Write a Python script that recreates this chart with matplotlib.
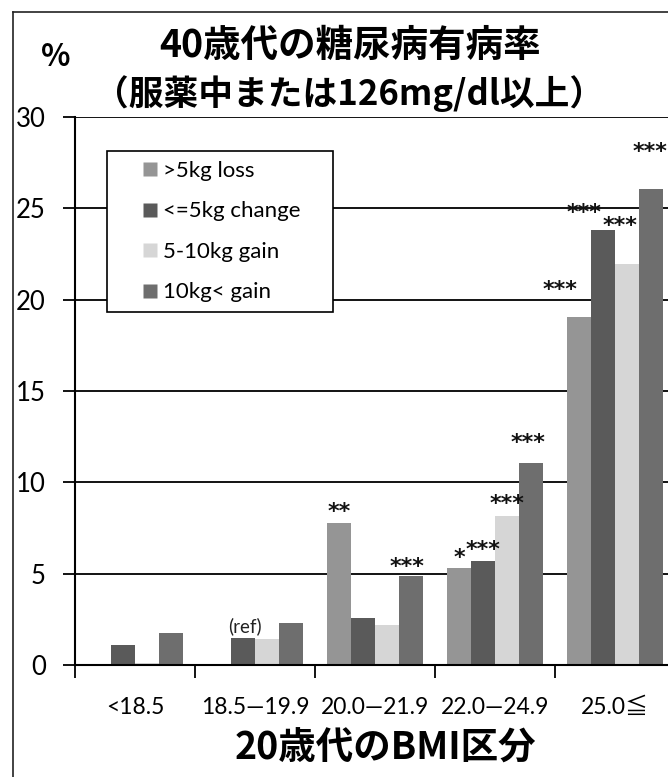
import matplotlib
matplotlib.use('Agg')
import matplotlib.pyplot as plt
import numpy as np
from matplotlib.lines import Line2D

# ---------------- data ----------------
categories = ['<18.5', '18.5—19.9', '20.0—21.9', '22.0—24.9', '25.0≦']
series_names = ['>5kg loss', '<=5kg change', '5-10kg gain', '10kg< gain']
loss5 = [np.nan, np.nan, 7.8, 5.3, 19.05]
change5 = [1.1, 1.5, 2.55, 5.7, 23.8]
gain5_10 = [0.1, 1.4, 2.2, 8.15, 21.95]
gain10 = [1.75, 2.3, 4.85, 11.05, 26.05]
sig_loss5 = ['', '', '**', '*', '***']
sig_change5 = ['', '(ref)', '', '***', '***']
sig_gain5_10 = ['', '', '', '***', '***']
sig_gain10 = ['', '', '***', '***', '***']
yticks = [0, 5, 10, 15, 20, 25, 30]

title1 = '40歳代の糖尿病有病率'
title2 = '（服薬中または126mg/dl以上）'
xlabel = '20歳代のBMI区分'
ylabel = '%'

# ---------------- style ----------------
W, H = 668, 777
LAT = ['Lato', 'Noto Sans CJK JP', 'DejaVu Sans']
JP = ['Noto Sans CJK JP', 'DejaVu Sans']
colors = ['#959595', '#5a5a5a', '#d6d6d6', '#6e6e6e']
series = [loss5, change5, gain5_10, gain10]
sigs = [sig_loss5, sig_change5, sig_gain5_10, sig_gain10]
# label offsets in pixels (dy above bar top to mark centre, dx)
offs = {
    (0, 2): (18, 0), (0, 3): (17, 0), (0, 4): (34, -19),
    (1, 1): (11, 2), (1, 3): (18, 0), (1, 4): (24, -19),
    (2, 3): (19, 0), (2, 4): (45, -7),
    (3, 2): (16, -4), (3, 3): (27, -3), (3, 4): (44, -1),
}

fig = plt.figure(figsize=(W / 100, H / 100), dpi=100)
fig.patch.set_facecolor('white')
ax = fig.add_axes([75 / W, (H - 665) / H, 600 / W, 548 / H])

n = len(series)
bw = 0.2
x = np.arange(len(categories))
for i, (vals, c) in enumerate(zip(series, colors)):
    xs = x + (i - (n - 1) / 2) * bw
    ax.bar(xs, vals, width=bw, color=c, edgecolor='none', zorder=2)
    for j, (v, s) in enumerate(zip(vals, sigs[i])):
        if not s:
            continue
        dy, dx = offs.get((i, j), (16, 0))
        if s == '(ref)':
            ax.annotate(s, xy=(xs[j], v), xytext=(dx * 0.72, dy * 0.72),
                        textcoords='offset points', ha='center', va='center',
                        fontsize=13.5, family=LAT, color='#222222')
        else:
            ax.annotate(s, xy=(xs[j], v), xytext=(dx * 0.72, (dy - 13) * 0.72),
                        textcoords='offset points', ha='center', va='baseline',
                        fontsize=16, family='DejaVu Sans', weight='bold',
                        color='#111111')

ax.set_xlim(-0.5, len(categories) - 0.5)
ax.set_ylim(0, 30)
ax.set_yticks(yticks)
ax.set_yticklabels([str(t) for t in yticks], family=LAT, fontsize=18.5)
ax.yaxis.grid(True, color='black', lw=1.3)
ax.set_axisbelow(True)

ax.set_xticks(np.arange(len(categories) + 1) - 0.5)
ax.set_xticklabels([])
ax.set_xticks(x, minor=True)
ax.set_xticklabels(categories, minor=True, family=LAT, fontsize=16.5)
ax.tick_params(axis='x', which='major', direction='out', length=9, width=1.3)
ax.tick_params(axis='x', which='minor', length=0, pad=23)
ax.tick_params(axis='y', direction='out', length=9, width=1.3, pad=12)

for s in ['top', 'right']:
    ax.spines[s].set_visible(False)
for s in ['left', 'bottom']:
    ax.spines[s].set_linewidth(1.5)
    ax.spines[s].set_color('black')

handles = [Line2D([], [], marker='s', ls='none', markersize=9.5,
                  markerfacecolor=c, markeredgecolor='none') for c in colors]
leg = ax.legend(handles, series_names, loc='upper left',
                bbox_to_anchor=(32 / 600, (665 - 151) / 548 - 0.3, 226 / 600, 0.3),
                mode='expand', borderaxespad=0, prop={'family': LAT, 'size': 16},
                handlelength=3.0, handletextpad=-0.95, labelspacing=0.92,
                borderpad=0.45, fancybox=False, framealpha=1, edgecolor='black')
leg.get_frame().set_linewidth(1.2)
leg.set_zorder(5)

# titles & labels
fig.text(350 / W, 1 - 45 / H, title1, ha='center', va='center',
         family=JP, weight='bold', fontsize=27)
fig.text(349 / W, 1 - 94 / H, title2, ha='center', va='center',
         family=JP, weight='bold', fontsize=25)
fig.text(56 / W, 1 - 57 / H, ylabel, ha='center', va='center',
         family=JP, weight='bold', fontsize=22)
fig.text(385 / W, 1 - 748 / H, xlabel, ha='center', va='center',
         family=JP, weight='bold', fontsize=27)

# outer frame of the original slide
fig.add_artist(Line2D([13 / W, 13 / W], [0, 1 - 12 / H], transform=fig.transFigure,
                      color='#222222', lw=1.2))
fig.add_artist(Line2D([13 / W, 1], [1 - 12 / H, 1 - 12 / H], transform=fig.transFigure,
                      color='#222222', lw=1.2))

fig.savefig('out.png', dpi=100, facecolor='white')
